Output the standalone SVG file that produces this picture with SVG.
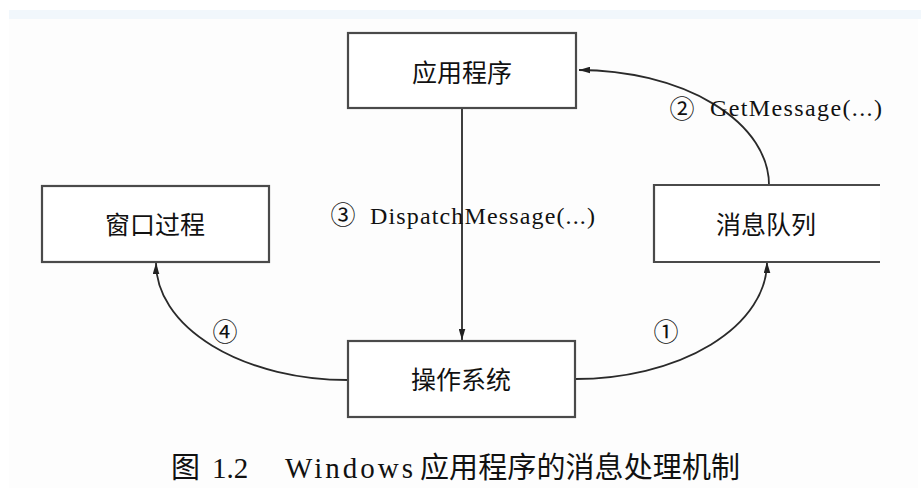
<svg xmlns="http://www.w3.org/2000/svg" width="921" height="488" viewBox="0 0 921 488">
<defs>
<marker id="arr" viewBox="0 0 10 6" refX="10" refY="3" markerWidth="11" markerHeight="7" markerUnits="userSpaceOnUse" orient="auto">
<path d="M0,0 L10,3 L0,6 Z" fill="#222"/>
</marker>
<style>
.box{fill:#ffffff;stroke:#4a4a4a;stroke-width:2.2}
.cn{font-family:"Noto Sans CJK SC","Liberation Sans",sans-serif;font-size:25px;fill:#111;text-anchor:middle}
.lat{font-family:"Liberation Serif","Noto Sans CJK SC",serif;font-size:24px;fill:#111}
.num{font-family:"Noto Sans CJK SC","DejaVu Sans",sans-serif;font-size:25px;fill:#111;text-anchor:middle}
.conn{fill:none;stroke:#2a2a2a;stroke-width:1.8}
.cap{font-family:"Liberation Serif","Noto Sans CJK SC",serif;font-size:29px;fill:#111}
.capcn{font-family:"Noto Sans CJK SC","Liberation Serif",serif;font-size:29px;fill:#111}
</style>
</defs>
<rect x="0" y="0" width="921" height="488" fill="#ffffff"/>
<rect x="9" y="19" width="909" height="469" fill="#fdfdfd"/>
<rect x="9" y="10" width="912" height="9" fill="#f1f7fc"/>

<g id="connectors">
<path class="conn" d="M769,185 A191,115 0 0 0 579,70" marker-end="url(#arr)"/>
<path class="conn" d="M462,108 L462,340" marker-end="url(#arr)"/>
<path class="conn" d="M348,380 A192,117 0 0 1 156,263" marker-end="url(#arr)"/>
<path class="conn" d="M575,379 A192,117 0 0 0 767,262" marker-end="url(#arr)"/>
</g>

<g id="node-app">
<rect class="box" x="348" y="33" width="228" height="75"/>
<text class="cn" x="462" y="82">应用程序</text>
</g>
<g id="node-winproc">
<rect class="box" x="42" y="186" width="227" height="76"/>
<text class="cn" x="155" y="234">窗口过程</text>
</g>
<g id="node-queue">
<path d="M880,185 L654,185 L654,262 L880,262" fill="#ffffff" stroke="#4a4a4a" stroke-width="2.2"/>
<text class="cn" x="766" y="234">消息队列</text>
</g>
<g id="node-os">
<rect class="box" x="348" y="341" width="227" height="76"/>
<text class="cn" x="461" y="389">操作系统</text>
</g>

<g id="labels">
<text class="num" x="682" y="118">②</text>
<text class="lat" x="710" y="116" textLength="172" lengthAdjust="spacing">GetMessage(...)</text>
<text class="num" x="343" y="224">③</text>
<text class="lat" x="370" y="224" textLength="225" lengthAdjust="spacing">DispatchMessage(...)</text>
<text class="num" x="225" y="341">④</text>
<text class="num" x="666" y="341">①</text>
</g>

<g id="caption">
<text class="capcn" x="171" y="478">图</text>
<text class="cap" x="212" y="478">1.2</text>
<text class="cap" x="285" y="478" textLength="128" lengthAdjust="spacing">Windows</text>
<text class="capcn" x="420" y="478" textLength="320" lengthAdjust="spacing">应用程序的消息处理机制</text>
</g>
</svg>
